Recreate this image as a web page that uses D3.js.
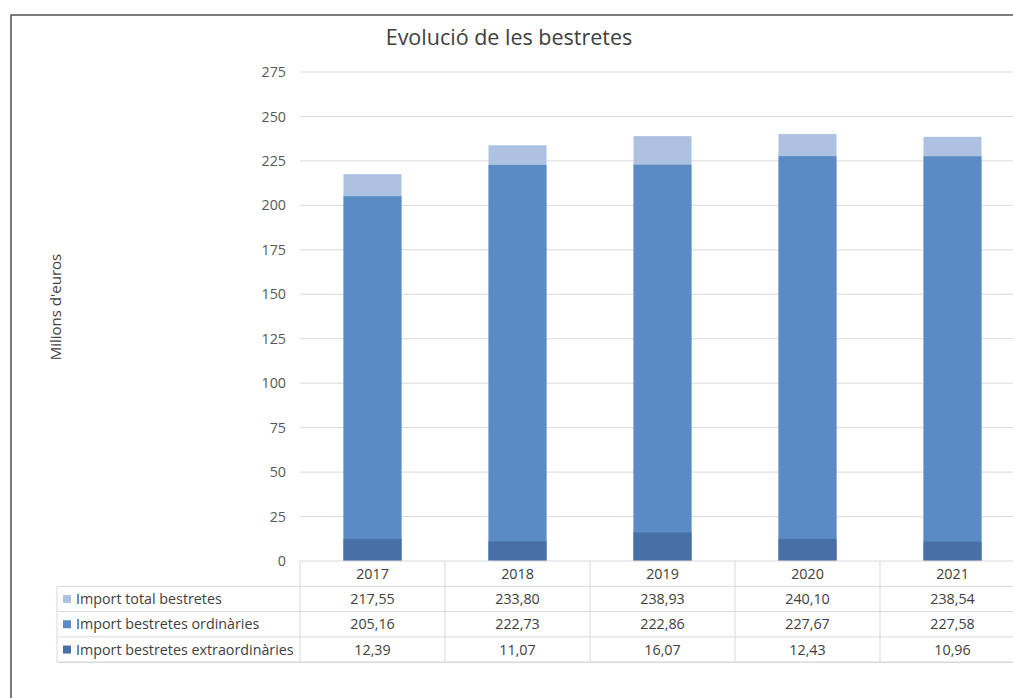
<!DOCTYPE html>
<html><head><meta charset="utf-8">
<script src="https://cdn.jsdelivr.net/npm/d3@7"></script>
<style>body{margin:0;background:#fff;}svg{display:block;font-family:"Open Sans","Noto Sans",sans-serif;}</style>
</head><body>
<script>
const years = ["2017","2018","2019","2020","2021"];
const totalValues = [217.55, 233.80, 238.93, 240.10, 238.54];
const ordinaryValues = [205.16, 222.73, 222.86, 227.67, 227.58];
const extraValues = [12.39, 11.07, 16.07, 12.43, 10.96];
const yTicks = [0,25,50,75,100,125,150,175,200,225,250,275];
const seriesNames = ["Import total bestretes","Import bestretes ordinàries","Import bestretes extraordinàries"];
const seriesColors = ["#adc1e0","#5a8bc5","#4870a7"];

const W = 1013, H = 698;
const FONT = "'Open Sans','Noto Sans',sans-serif";
const FS = "14.3px";
const svg = d3.select("body").append("svg").attr("width", W).attr("height", H);

// outer frame
svg.append("rect").attr("x", 11).attr("y", 15).attr("width", W + 10).attr("height", H + 10)
  .attr("fill", "none").attr("stroke", "#505050").attr("stroke-width", 1.5);

const x0 = 300, x1 = 1025, yTop = 72, yBot = 561;
const x = d3.scaleBand().domain(years).range([x0, x1]).paddingInner(0.6).paddingOuter(0.3);
const y = d3.scaleLinear().domain([0, 275]).range([yBot, yTop]);

// gridlines
svg.append("g").selectAll("line").data(yTicks.filter(t => t > 0)).join("line")
  .attr("x1", x0).attr("x2", W).attr("y1", d => y(d)).attr("y2", d => y(d))
  .attr("stroke", "#d9d9d9").attr("stroke-width", 1);

// y axis labels
const yAxis = d3.axisLeft(y).tickValues(yTicks).tickSize(0).tickPadding(14).tickFormat(d3.format("d"));
const gy = svg.append("g").attr("transform", `translate(${x0},0)`).call(yAxis);
gy.select(".domain").remove();
gy.selectAll("text").attr("fill", "#595959").style("font-size", FS).style("font-family", FONT);

// bars: overlapping, all from zero
const seriesData = [totalValues, ordinaryValues, extraValues];
seriesData.forEach((vals, si) => {
  svg.append("g").selectAll("rect").data(vals).join("rect")
    .attr("x", (d, i) => x(years[i]))
    .attr("width", x.bandwidth())
    .attr("y", d => y(d))
    .attr("height", d => y(0) - y(d))
    .attr("fill", seriesColors[si]);
});

// title
svg.append("text").attr("x", 509).attr("y", 45).attr("text-anchor", "middle")
  .attr("fill", "#404040").style("font-size", "21.5px").text("Evolució de les bestretes");

// y axis title
svg.append("text").attr("transform", "translate(61,307) rotate(-90)").attr("text-anchor", "middle")
  .attr("fill", "#404040").style("font-size", "15px").text("Milions d'euros");

// data table
const rowH = 25.3;
const step = x.step();
const colStarts = years.map(yv => x(yv) - x.paddingInner() * step / 2);
const tbl = svg.append("g");
const grid = "#d9d9d9";
const fmt = v => v.toFixed(2).replace(".", ",");
tbl.append("line").attr("x1", x0).attr("x2", W).attr("y1", yBot).attr("y2", yBot).attr("stroke", grid);
[1,2,3,4].forEach(r => {
  tbl.append("line").attr("x1", 57).attr("x2", W).attr("y1", yBot + r * rowH).attr("y2", yBot + r * rowH)
    .attr("stroke", grid).attr("stroke-width", r === 4 ? 1.5 : 1);
});
tbl.append("line").attr("x1", 57).attr("x2", 57).attr("y1", yBot + rowH).attr("y2", yBot + 4 * rowH).attr("stroke", grid);
colStarts.forEach(cx => {
  tbl.append("line").attr("x1", cx).attr("x2", cx).attr("y1", yBot).attr("y2", yBot + 4 * rowH).attr("stroke", grid);
});
tbl.selectAll("text.yr").data(years).join("text").attr("class", "yr")
  .attr("x", d => x(d) + x.bandwidth() / 2).attr("y", yBot + rowH / 2 + 5)
  .attr("text-anchor", "middle").attr("fill", "#404040").style("font-size", FS).text(d => d);
seriesData.forEach((vals, si) => {
  const cy = yBot + (si + 1) * rowH + rowH / 2;
  tbl.append("rect").attr("x", 63).attr("y", cy - 4).attr("width", 8).attr("height", 8).attr("fill", seriesColors[si]);
  tbl.append("text").attr("x", 76).attr("y", cy + 5).attr("fill", "#404040").style("font-size", FS).text(seriesNames[si]);
  tbl.selectAll(null).data(vals).join("text")
    .attr("x", (d, i) => x(years[i]) + x.bandwidth() / 2).attr("y", cy + 5)
    .attr("text-anchor", "middle").attr("fill", "#404040").style("font-size", FS).text(d => fmt(d));
});
</script>
</body></html>
